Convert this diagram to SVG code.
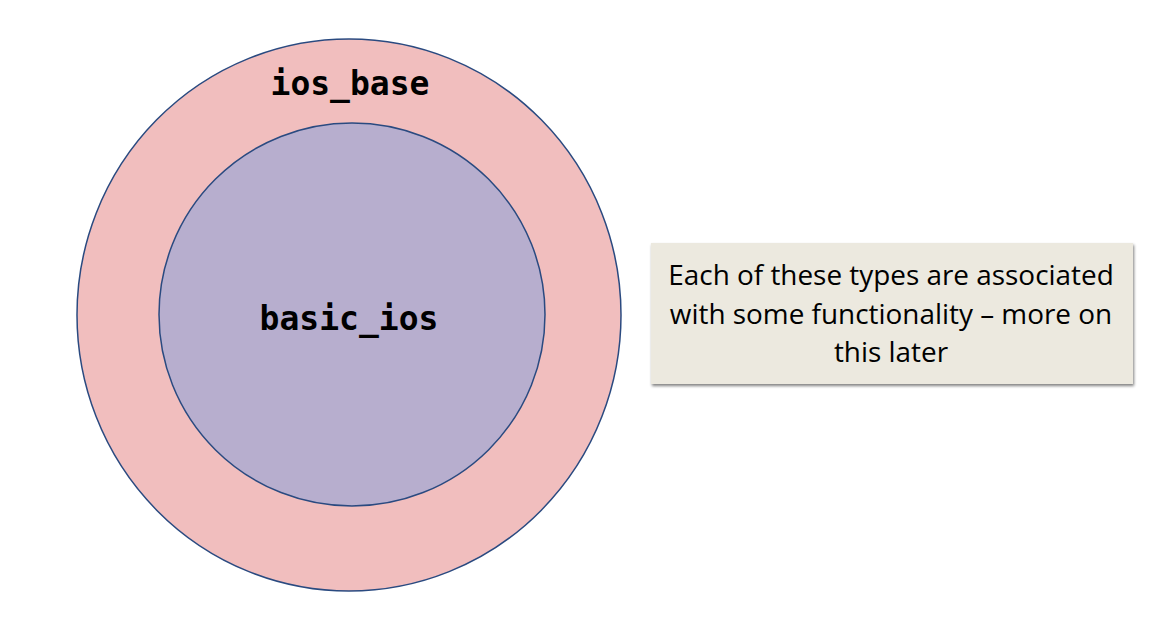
<svg xmlns="http://www.w3.org/2000/svg" width="1151" height="617" viewBox="0 0 1151 617">
<style>
.circ{stroke:#2a4a80;stroke-width:1.5}
.mono{font-family:"DejaVu Sans Mono","Liberation Mono",monospace;font-weight:bold;font-size:33px;fill:#000;text-anchor:middle}
.note{font-family:"Open Sans","Noto Sans",sans-serif;font-size:27.9px;fill:#000;text-anchor:middle}
</style>
<defs>
<filter id="sh" x="-5%" y="-10%" width="110%" height="125%">
<feGaussianBlur in="SourceAlpha" stdDeviation="1.5"/>
<feOffset dx="1" dy="2" result="b"/>
<feComponentTransfer><feFuncA type="linear" slope="0.5"/></feComponentTransfer>
<feMerge><feMergeNode/><feMergeNode in="SourceGraphic"/></feMerge>
</filter>
</defs>
<rect width="1151" height="617" fill="#fff"/>
<g id="ios_base">
<ellipse class="circ" cx="349" cy="315" rx="272" ry="276" fill="#f1bebe"/>
<text class="mono" x="350" y="95">ios_base</text>
</g>
<g id="basic_ios">
<ellipse class="circ" cx="352" cy="314.5" rx="193" ry="191.5" fill="#b7aece"/>
<text class="mono" x="349" y="330">basic_ios</text>
</g>
<g id="note">
<rect x="651" y="243" width="482" height="141" fill="#ece9df" filter="url(#sh)"/>
<text class="note" x="891" y="285">Each of these types are associated</text>
<text class="note" x="891" y="324">with some functionality – more on</text>
<text class="note" x="891" y="362">this later</text>
</g>
<g id="connectors"/>
</svg>
